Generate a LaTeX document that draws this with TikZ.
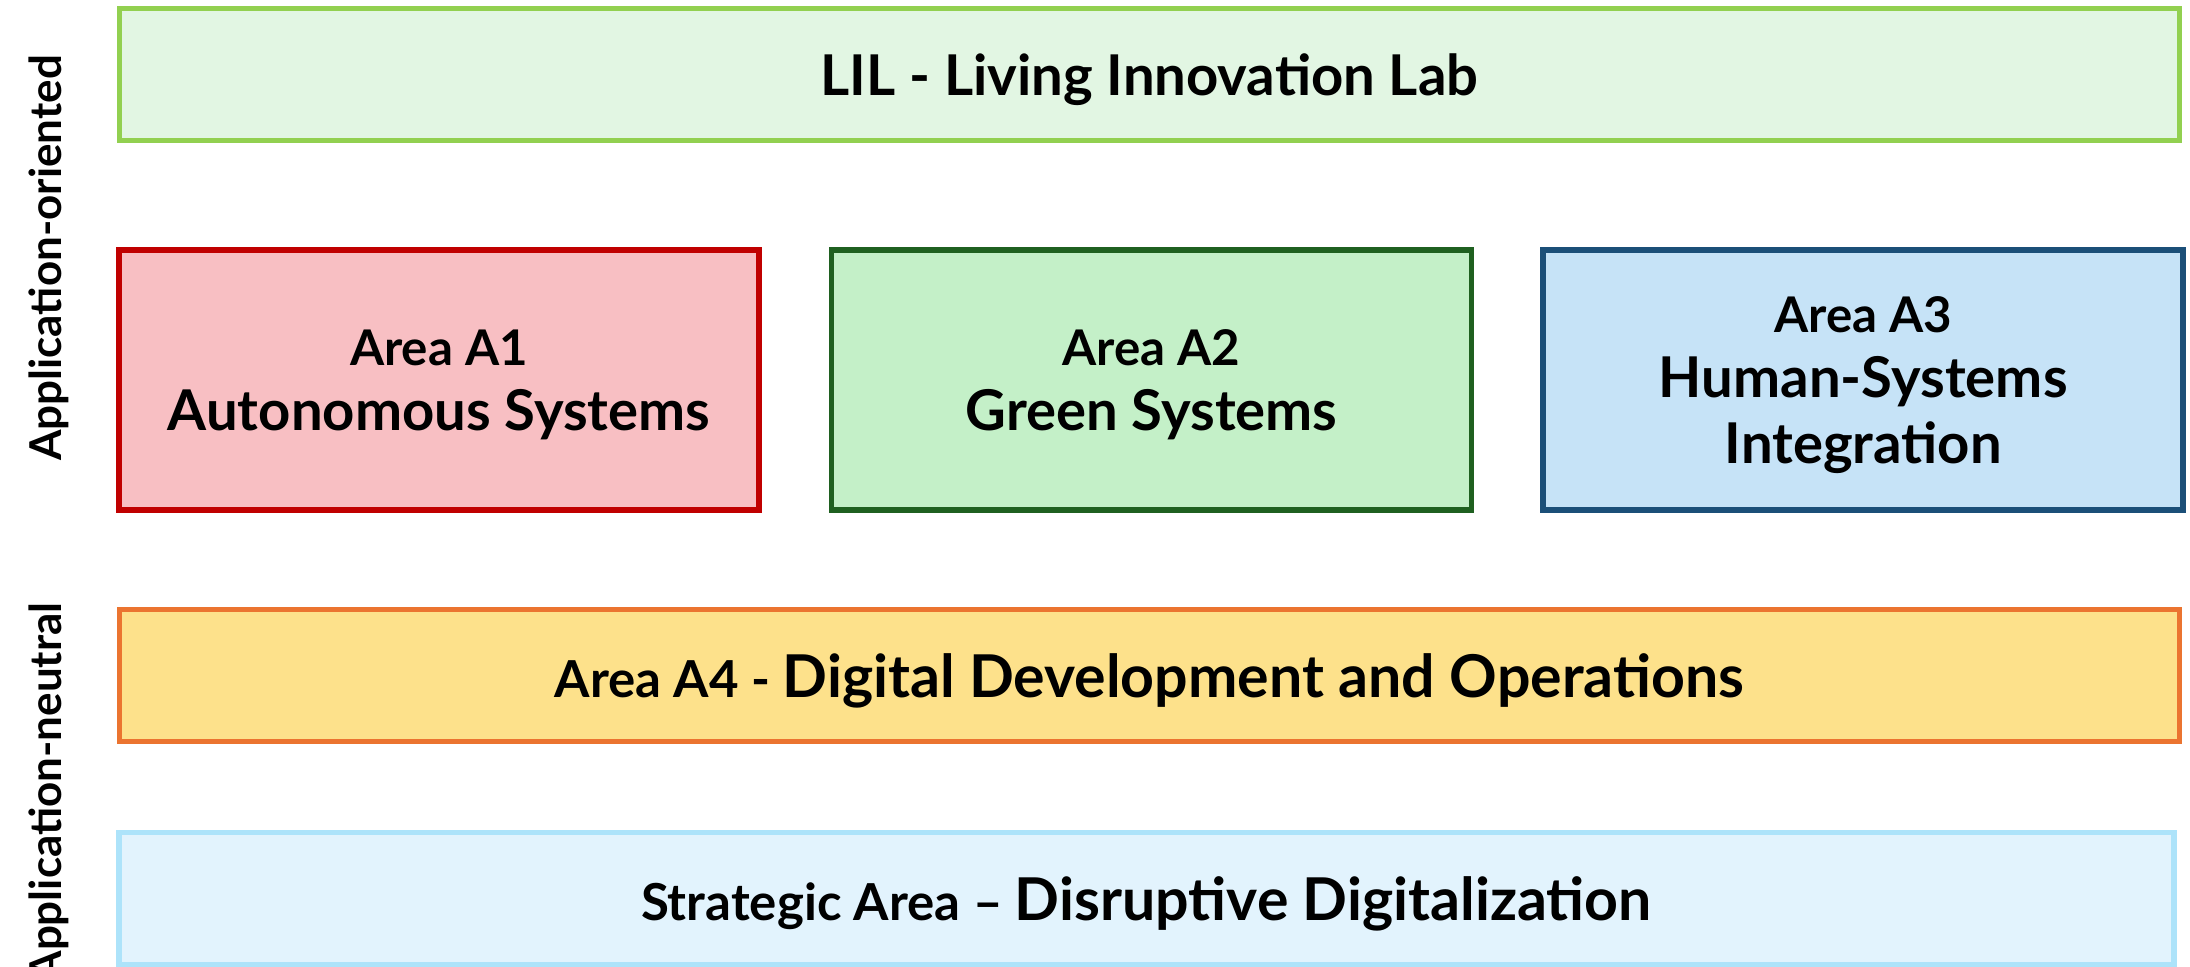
\documentclass[tikz,border=0pt]{standalone}
\usepackage{fontspec}
\setmainfont{Lato}
\usetikzlibrary{positioning}

\definecolor{lilline}{HTML}{92D050}
\definecolor{lilfill}{HTML}{E2F6E3}
\definecolor{aoneline}{HTML}{C00000}
\definecolor{aonefill}{HTML}{F8BFC3}
\definecolor{atwoline}{HTML}{1F6020}
\definecolor{atwofill}{HTML}{C4F0C8}
\definecolor{athreeline}{HTML}{1B4F78}
\definecolor{athreefill}{HTML}{C6E3F7}
\definecolor{afourline}{HTML}{EB7430}
\definecolor{afourfill}{HTML}{FDE18B}
\definecolor{stratline}{HTML}{ADE3FA}
\definecolor{stratfill}{HTML}{E2F3FD}

\newcommand{\areasmall}{\fontsize{14}{18.5}\selectfont}
\newcommand{\areabig}{\fontsize{16}{18.5}\selectfont}

\begin{document}
\begin{tikzpicture}[
    line width=1.6pt,
    bar/.style={rectangle, minimum width=20.6cm, minimum height=1.32cm, inner sep=0pt, text depth=0pt, text centered, font=\bfseries},
    area/.style={rectangle, minimum width=6.4cm, minimum height=2.6cm, inner sep=0pt, text depth=0pt, align=center, font=\bfseries\areabig},
    side/.style={rotate=90, font=\bfseries\fontsize{12.5}{15}\selectfont}
]
\useasboundingbox (0,0) rectangle (21.9,-9.67);
% Top bar
\node[bar, draw=lilline, fill=lilfill] (lil) at (11.495,-0.745) {\areabig LIL - Living Innovation Lab};
% Three application areas
\node[area, draw=aoneline, fill=aonefill] (aone) at (4.39,-3.80) {{\areasmall Area A1}\\Autonomous Systems};
\node[area, draw=atwoline, fill=atwofill, right=0.67cm of aone] (atwo) {{\areasmall Area A2}\\Green Systems};
\node[area, draw=athreeline, fill=athreefill, right=0.66cm of atwo] (athree) {{\areasmall Area A3}\\Human-Systems\\Integration};
% Application-neutral bars
\node[bar, draw=afourline, fill=afourfill] (afour) at (11.495,-6.755) {\fontsize{14.5}{18}\selectfont Area A4 - \fontsize{16.8}{20}\selectfont Digital Development and Operations};
\node[bar, minimum width=20.55cm, draw=stratline, fill=stratfill] (strat) at (11.465,-8.985) {\fontsize{14.5}{18}\selectfont Strategic Area -- \fontsize{16.8}{20}\selectfont Disruptive Digitalization};
% Side labels
\node[side] (oriented) at (0.49,-2.58) {Application-oriented};
\node[side] (neutral) at (0.49,-7.92) {Application-neutral};
\end{tikzpicture}
\end{document}
